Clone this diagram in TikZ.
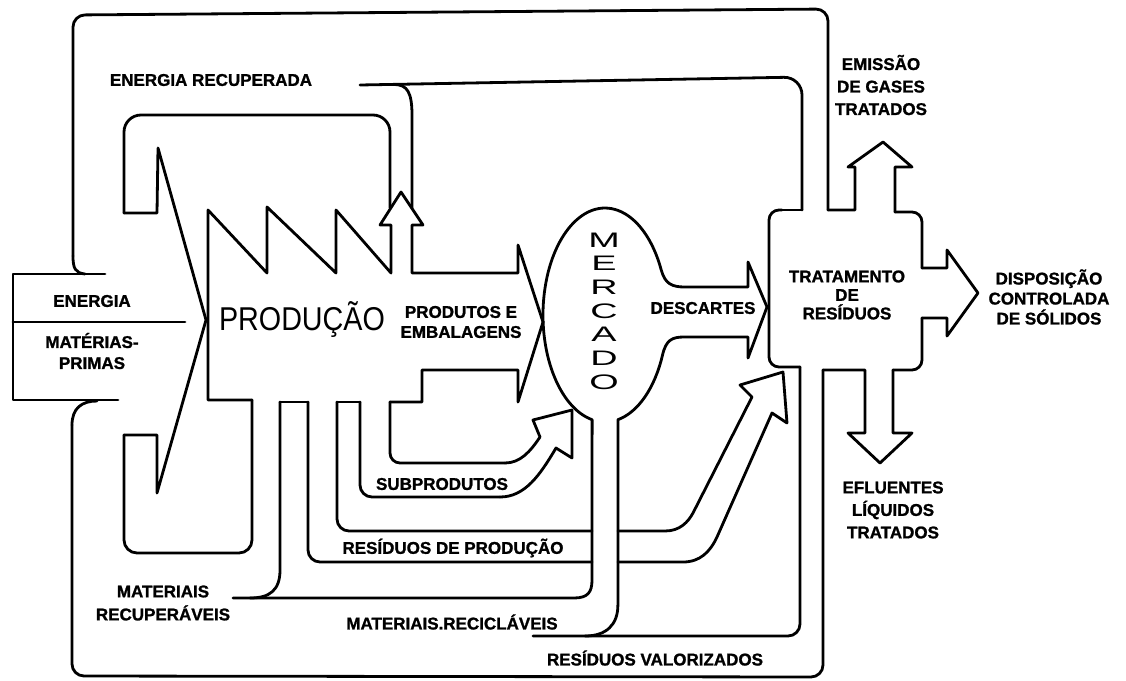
\documentclass[tikz,border=0pt]{standalone}
\usepackage{fontspec}
\newfontfamily\lsans{Liberation Sans}[BoldFeatures={FakeBold=1.2}]
\begin{document}
\begin{tikzpicture}[x=1pt,y=-1pt,
  ln/.style={line width=2.8pt,line join=round,line cap=round},
  lab/.style={font=\fontsize{17}{21}\selectfont\lsans\bfseries,align=center,inner sep=0pt},
  big/.style={font=\fontsize{33}{36}\selectfont\lsans,inner sep=0pt},
  merc/.style={font=\fontsize{21}{23.7}\selectfont\lsans,align=center,inner sep=0pt}]
\useasboundingbox (0,0) rectangle (1126,680);
% ---------- outer loop (top part) ----------
\draw[ln] (85,274) .. controls (75,273) and (73,268) .. (73,256);
\draw[ln,rounded corners=12pt] (73,256) -- (73,15) -- (828,9) -- (828,210);
\draw[ln] (828,210) -- (855,210) -- (855,167) -- (848,167) -- (883,142) -- (912,167) -- (895,167) -- (895,212);
\draw[ln,rounded corners=10pt] (895,212) -- (922,212) -- (922,268);
\draw[ln] (922,268) -- (947,268) -- (947,250) -- (978,293) -- (947,336) -- (947,318) -- (922,318);
\draw[ln,rounded corners=10pt] (922,318) -- (922,370) -- (893,370);
\draw[ln] (893,370) -- (893,433) -- (912,433) -- (880,463) -- (848,433) -- (865,433) -- (865,370) -- (823,370);
\draw[ln,rounded corners=12pt] (823,370) -- (823,677) -- (72,676) -- (72,425);
\draw[ln] (72,425) .. controls (72,408) and (82,401) .. (97,401);
% ---------- input box ----------
\draw[ln] (105,274) -- (13,274) -- (13,400) -- (118,400);
\draw[ln] (13,322) -- (185,322);
% ---------- production ----------
\draw[ln,rounded corners=17pt] (390,208) -- (390,115) -- (124,115) -- (124,213);
\draw[ln] (124,213) -- (157,213) -- (158,148) -- (206,320) -- (157,493) -- (157,435) -- (124,435);
\draw[ln,rounded corners=13pt] (124,435) -- (124,553) -- (252,553) -- (252,400);
\draw[ln] (252,400) -- (208,400) -- (208,210) -- (267,273) -- (267,207) -- (336,273) -- (336,210)
  -- (391,273) -- (391,225) -- (380,225) -- (401,192) -- (423,225) -- (412,225) -- (412,273)
  -- (518,273) -- (518,245) -- (543,322) -- (518,402) -- (518,370) -- (422,370) -- (422,402) -- (390,402);
% ---------- energia recuperada ----------
\draw[ln] (412,208) -- (412,115) .. controls (412,92) and (407,85) .. (395,84.5);
\draw[ln,rounded corners=18pt] (360,85) -- (802,77) -- (802,210);
\draw[ln] (802,210) -- (782,210);
% ---------- treatment box left ----------
\draw[ln,rounded corners=10pt] (782,210) -- (769,210) -- (769,367) -- (800,367);
\draw[ln,rounded corners=12pt] (800,367) -- (800,636) -- (533,636);
% ---------- mercado + descartes ----------
\draw[ln] (233,598) -- (574,598) .. controls (588,598) and (592,592) .. (592,580) -- (592.1,419.7)
  arc[start angle=102,end angle=335,x radius=62,y radius=107]
  .. controls (665,284) and (672,287) .. (685,287) -- (748,287) -- (748,262) -- (767,307)
  -- (748,358) -- (748,337) -- (684,337) .. controls (672,337) and (666,340) .. (662.5,355.1)
  arc[start angle=22,end angle=78,x radius=62,y radius=107]
  -- (617.9,605) .. controls (617.9,625) and (606,636) .. (585,636);
% ---------- subprodutos ----------
\draw[ln,rounded corners=10pt] (390,402) -- (390,463) -- (505,463);
\draw[ln] (505,463) .. controls (520,463) and (530,452) .. (540,437) -- (533,420) -- (572,410)
  -- (572,458) -- (556,448) .. controls (540,475) and (525,497) .. (500,497);
\draw[ln,rounded corners=12pt] (500,497) -- (360,497) -- (360,402);
\draw[ln] (360,402) -- (337,402);
% ---------- residuos de producao ----------
\draw[ln,rounded corners=12pt] (337,402) -- (337,531) -- (592,531);
\draw[ln,rounded corners=12pt] (308,402) -- (308,562) -- (592,562);
\draw[ln] (308,402) -- (280,402);
\draw[ln] (617.9,531) -- (665,531) .. controls (680,531) and (688,522) .. (693,513) -- (752,397)
  -- (740,385) -- (783,372) -- (787,423) -- (772,413) -- (717,537)
  .. controls (710,552) and (700,562) .. (683,562) -- (617.9,562);
% ---------- materiais recuperaveis ----------
\draw[ln] (280,402) -- (280,570) .. controls (280,590) and (270,598) .. (250,598);
% ---------- labels ----------
\node[lab] (enrec) at (211,80) {ENERGIA RECUPERADA};
\node[lab] (energia) at (92,301) {ENERGIA};
\node[lab] (materias) at (92,351) {MATÉRIAS-\\PRIMAS};
\node[big] (producao) at (302,320) {\scalebox{0.87}[1]{PRODUÇÃO}};
\node[lab,font=\fontsize{17}{20}\selectfont\lsans\bfseries] (produtos) at (461,322) {PRODUTOS E\\EMBALAGENS};
\node[merc] (mercado) at (604,311) {\scalebox{1.8}[1]{M}\\\scalebox{1.8}[1]{E}\\\scalebox{1.8}[1]{R}\\\scalebox{1.8}[1]{C}\\\scalebox{1.8}[1]{A}\\\scalebox{1.8}[1]{D}\\\scalebox{1.8}[1]{O}};
\node[lab] (descartes) at (703,308) {DESCARTES};
\node[lab,font=\fontsize{17}{18.5}\selectfont\lsans\bfseries] (tratamento) at (847,295) {TRATAMENTO\\DE\\RESÍDUOS};
\node[lab,font=\fontsize{17}{22.5}\selectfont\lsans\bfseries] (emissao) at (881,85) {EMISSÃO\\DE GASES\\TRATADOS};
\node[lab,font=\fontsize{17}{20}\selectfont\lsans\bfseries] (disposicao) at (1049,297) {DISPOSIÇÃO\\CONTROLADA\\DE SÓLIDOS};
\node[lab,font=\fontsize{17}{22.5}\selectfont\lsans\bfseries] (efluentes) at (893,510) {EFLUENTES\\LÍQUIDOS\\TRATADOS};
\node[lab] (subprodutos) at (442,484) {SUBPRODUTOS};
\node[lab] (resprod) at (453,548) {RESÍDUOS DE PRODUÇÃO};
\node[lab] (reciclaveis) at (452,622) {MATERIAIS.RECICLÁVEIS};
\node[lab] (valorizados) at (655,658) {RESÍDUOS VALORIZADOS};
\node[lab,font=\fontsize{17}{23}\selectfont\lsans\bfseries] (recuperaveis) at (163,603) {MATERIAIS\\RECUPERÁVEIS};
\end{tikzpicture}
\end{document}
